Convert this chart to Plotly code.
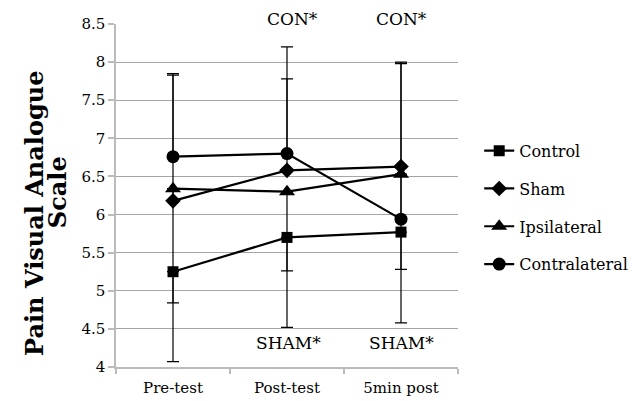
import plotly.graph_objects as go

categories = ["Pre-test", "Post-test", "5min post"]
series_names = ["Control", "Sham", "Ipsilateral", "Contralateral"]
control = [5.25, 5.70, 5.77]
sham = [6.18, 6.58, 6.63]
ipsilateral = [6.34, 6.30, 6.53]
contralateral = [6.76, 6.80, 5.94]

control_err_minus = [1.18, 1.18, 1.19]
sham_err_plus = [1.65, 1.20, 1.37]
ipsi_err_minus = [1.50, 1.04, 1.25]
contra_err_plus = [1.09, 1.40, 2.04]

symbols = ["square", "diamond", "triangle-up", "circle"]
marker_sizes = [11, 12, 14, 13]
values = [control, sham, ipsilateral, contralateral]
font_family = "DejaVu Serif, serif"

fig = go.Figure()
for name, vals, sym, size in zip(series_names, values, symbols, marker_sizes):
    if name == "Control":
        ey = dict(type="data", symmetric=False, array=[0, 0, 0], arrayminus=control_err_minus)
    elif name == "Sham":
        ey = dict(type="data", symmetric=False, array=sham_err_plus, arrayminus=[0, 0, 0])
    elif name == "Ipsilateral":
        ey = dict(type="data", symmetric=False, array=[0, 0, 0], arrayminus=ipsi_err_minus)
    else:
        ey = dict(type="data", symmetric=False, array=contra_err_plus, arrayminus=[0, 0, 0])
    ey.update(color="black", thickness=1.2, width=6)
    fig.add_trace(go.Scatter(
        x=categories, y=vals, name=name, mode="lines+markers",
        line=dict(color="black", width=2.2),
        marker=dict(symbol=sym, size=size, color="black"),
        error_y=ey, legendgroup=name,
    ))

ann_font = dict(size=17, family=font_family, color="black")
fig.add_annotation(x="Post-test", y=1.0, yref="paper", text="CON*", showarrow=False,
                   yanchor="middle", yshift=5, xshift=5, font=ann_font)
fig.add_annotation(x="5min post", y=1.0, yref="paper", text="CON*", showarrow=False,
                   yanchor="middle", yshift=5, font=ann_font)
fig.add_annotation(x="Post-test", y=4.34, text="SHAM*", showarrow=False,
                   yanchor="middle", xshift=1, yshift=-2, font=ann_font)
fig.add_annotation(x="5min post", y=4.34, text="SHAM*", showarrow=False,
                   yanchor="middle", yshift=-2, font=ann_font)

title_font = dict(size=24, family=font_family, color="black")
fig.add_annotation(x=-0.237, xref="paper", y=(367 - 213) / 343, yref="paper", text="<b>Pain Visual Analogue</b>",
                   textangle=-90, showarrow=False, xanchor="center", yanchor="middle", font=title_font)
fig.add_annotation(x=-0.172, xref="paper", y=(367 - 192) / 343, yref="paper", text="<b>Scale</b>",
                   textangle=-90, showarrow=False, xanchor="center", yanchor="middle", font=title_font)

fig.update_layout(
    width=632, height=401,
    margin=dict(l=116, r=174, t=24, b=34, autoexpand=False),
    plot_bgcolor="white", paper_bgcolor="white",
    font=dict(family=font_family, size=15, color="black"),
    showlegend=True,
    legend=dict(x=1.062, y=0.68, xanchor="left", yanchor="top", tracegroupgap=14,
                font=dict(size=16, family=font_family), bgcolor="rgba(0,0,0,0)"),
    xaxis=dict(type="category", tickson="boundaries", ticks="outside", ticklen=5, tickcolor="#bbb",
               tickwidth=1.5, showline=True, linecolor="#bbb", linewidth=1.5, showgrid=False,
               tickfont=dict(size=15), range=[-0.5, 2.5], ticklabelstandoff=6),
    yaxis=dict(range=[4, 8.5], dtick=0.5, tick0=4, ticks="outside", ticklen=6, tickcolor="#bbb",
               tickwidth=1.5, showline=True, linecolor="#bbb", linewidth=1.5, showgrid=True,
               gridcolor="#a6a6a6", gridwidth=1, tickfont=dict(size=15), zeroline=False),
)

fig.write_html("out.html")
